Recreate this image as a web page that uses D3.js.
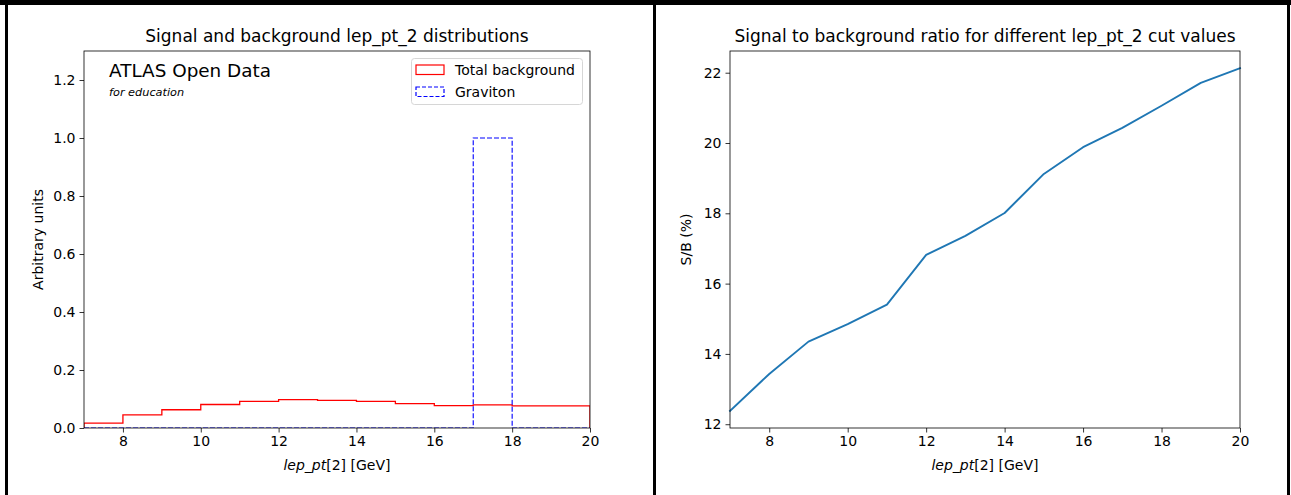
<!doctype html>
<html>
<head>
<meta charset="utf-8"/>
<title>lep_pt_2 distributions</title>
<script src="https://cdnjs.cloudflare.com/ajax/libs/d3/7.8.5/d3.min.js"></script>
<style>
  body { margin: 0; background: #fff; }
  svg { display: block; }
  text { font-family: "DejaVu Sans", sans-serif; fill: #000; }
</style>
</head>
<body>
<svg id="fig" width="1291" height="495"></svg>
<script>
// ---- data ----
var binEdges = [7, 8, 9, 10, 11, 12, 13, 14, 15, 16, 17, 18, 19, 20];
var backgroundValues = [0.017, 0.045, 0.063, 0.081, 0.092, 0.098, 0.095, 0.092, 0.084, 0.077, 0.080, 0.076, 0.076];
var gravitonValues = [0, 0, 0, 0, 0, 0, 0, 0, 0, 0, 1.0, 0, 0];
var cutValues = [7, 8, 9, 10, 11, 12, 13, 14, 15, 16, 17, 18, 19, 20];
var sbRatio = [12.38, 13.43, 14.35, 14.85, 15.40, 16.82, 17.36, 18.01, 19.12, 19.88, 20.43, 21.06, 21.71, 22.13];
var xTicks = [8, 10, 12, 14, 16, 18, 20];
var histYTicks = [0, 0.2, 0.4, 0.6, 0.8, 1.0, 1.2];
var ratioYTicks = [12, 14, 16, 18, 20, 22];
var legendLabels = ["Total background", "Graviton"];

var svg = d3.select("#fig");
svg.append("rect").attr("width", 1291).attr("height", 495).attr("fill", "#fff");

// frame around the two images
svg.append("rect").attr("x", 0).attr("y", 0).attr("width", 1291).attr("height", 5).attr("fill", "#000");
svg.append("rect").attr("x", 5).attr("y", 0).attr("width", 3).attr("height", 495).attr("fill", "#000");
svg.append("rect").attr("x", 653).attr("y", 0).attr("width", 3).attr("height", 495).attr("fill", "#000");
svg.append("rect").attr("x", 1287).attr("y", 0).attr("width", 3).attr("height", 495).attr("fill", "#000");

var axTop = 51, axBottom = 428;
var tickFont = 14;

function drawAxes(g, x, y, yTicks, yFmt, left, right) {
	g.append("g")
		.attr("transform", "translate(0," + axBottom + ")")
		.call(d3.axisBottom(x).tickValues(xTicks).tickSize(4.5).tickPadding(4).tickFormat(d3.format("d")))
		.call(function (a) { a.select(".domain").remove(); })
		.selectAll("text").attr("font-size", tickFont).attr("fill", "#000");
	g.append("g")
		.attr("transform", "translate(" + left + ",0)")
		.call(d3.axisLeft(y).tickValues(yTicks).tickSize(4.5).tickPadding(4).tickFormat(yFmt))
		.call(function (a) { a.select(".domain").remove(); })
		.selectAll("text").attr("font-size", tickFont).attr("fill", "#000");
	g.selectAll(".tick line").attr("stroke", "#000").attr("stroke-width", 0.8);
	g.selectAll(".tick text").attr("font-family", "DejaVu Sans");
	g.append("rect")
		.attr("x", left).attr("y", axTop)
		.attr("width", right - left).attr("height", axBottom - axTop)
		.attr("fill", "none").attr("stroke", "#000").attr("stroke-width", 0.8);
}

function xLabel(g, cx) {
	var t = g.append("text").attr("x", cx).attr("y", 470)
		.attr("text-anchor", "middle").attr("font-size", tickFont);
	t.append("tspan").attr("font-style", "italic").text("lep_pt");
	t.append("tspan").text("[2] [GeV]");
}

// ---- left: histograms ----
var L = { left: 84, right: 590 };
var xh = d3.scaleLinear().domain([7, 20]).range([L.left, L.right]);
var yh = d3.scaleLinear().domain([0, 1.3]).range([axBottom, axTop]);
var gl = svg.append("g");

gl.append("clipPath").attr("id", "clipL").append("rect")
	.attr("x", L.left).attr("y", axTop).attr("width", L.right - L.left).attr("height", axBottom - axTop);

function stepPoints(vals) {
	var pts = [[binEdges[0], 0]];
	vals.forEach(function (v, i) {
		pts.push([binEdges[i], v]);
		pts.push([binEdges[i + 1], v]);
	});
	pts.push([binEdges[binEdges.length - 1], 0]);
	return pts;
}
var stepLine = d3.line().x(function (d) { return xh(d[0]); }).y(function (d) { return yh(d[1]); });

gl.append("path")
	.attr("d", stepLine(stepPoints(backgroundValues)))
	.attr("fill", "none").attr("stroke", "#ff0000").attr("stroke-width", 1.3)
	.attr("clip-path", "url(#clipL)");
gl.append("path")
	.attr("d", stepLine(stepPoints(gravitonValues)))
	.attr("fill", "none").attr("stroke", "#0000ff").attr("stroke-width", 1.1)
	.attr("stroke-dasharray", "5,2")
	.attr("clip-path", "url(#clipL)");

drawAxes(gl, xh, yh, histYTicks, d3.format(".1f"), L.left, L.right);

gl.append("text").attr("x", (L.left + L.right) / 2).attr("y", 42)
	.attr("text-anchor", "middle").attr("font-size", 17)
	.text("Signal and background lep_pt_2 distributions");
gl.append("text").attr("transform", "translate(43," + (axTop + axBottom) / 2 + ") rotate(-90)")
	.attr("text-anchor", "middle").attr("font-size", tickFont).text("Arbitrary units");
xLabel(gl, (L.left + L.right) / 2);

gl.append("text").attr("x", 109).attr("y", 77).attr("font-size", 18.4).text("ATLAS Open Data");
gl.append("text").attr("x", 109).attr("y", 96).attr("font-size", 11.3)
	.attr("font-style", "italic").text("for education");

// legend
var lg = gl.append("g");
lg.append("rect").attr("x", 411.5).attr("y", 58.5).attr("width", 171).attr("height", 46)
	.attr("rx", 3).attr("fill", "#fff").attr("fill-opacity", 0.8)
	.attr("stroke", "#d6d6d6").attr("stroke-width", 1);
var legendStyles = [
	{ stroke: "#ff0000", dash: null },
	{ stroke: "#0000ff", dash: "4,2" }
];
legendLabels.forEach(function (lab, i) {
	var yy = 65 + i * 22;
	lg.append("rect").attr("x", 416).attr("y", yy).attr("width", 28).attr("height", 9.5)
		.attr("fill", "none").attr("stroke", legendStyles[i].stroke).attr("stroke-width", 1.2)
		.attr("stroke-dasharray", legendStyles[i].dash);
	lg.append("text").attr("x", 455).attr("y", yy + 10).attr("font-size", tickFont).text(lab);
});

// ---- right: S/B ratio ----
var R = { left: 730, right: 1240 };
var xr = d3.scaleLinear().domain([7, 20]).range([R.left, R.right]);
var ext = d3.extent(sbRatio), pad = (ext[1] - ext[0]) * 0.05;
var yr = d3.scaleLinear().domain([ext[0] - pad, ext[1] + pad]).range([axBottom, axTop]);
var gr = svg.append("g");

gr.append("path")
	.attr("d", d3.line()
		.x(function (d, i) { return xr(cutValues[i]); })
		.y(function (d) { return yr(d); })(sbRatio))
	.attr("fill", "none").attr("stroke", "#1f77b4").attr("stroke-width", 1.9)
	.attr("stroke-linejoin", "round").attr("stroke-linecap", "square");

drawAxes(gr, xr, yr, ratioYTicks, d3.format("d"), R.left, R.right);

gr.append("text").attr("x", (R.left + R.right) / 2).attr("y", 42)
	.attr("text-anchor", "middle").attr("font-size", 17)
	.text("Signal to background ratio for different lep_pt_2 cut values");
gr.append("text").attr("transform", "translate(691," + (axTop + axBottom) / 2 + ") rotate(-90)")
	.attr("text-anchor", "middle").attr("font-size", tickFont).text("S/B (%)");
xLabel(gr, (R.left + R.right) / 2);
</script>
</body>
</html>
